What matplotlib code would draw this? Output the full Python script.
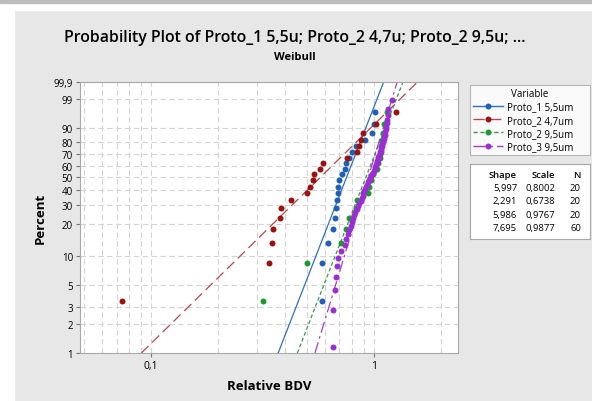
import numpy as np
import matplotlib
matplotlib.use("Agg")
import matplotlib.pyplot as plt
from matplotlib.patches import Rectangle
from matplotlib.lines import Line2D

plt.rcParams["font.family"] = ["Open Sans", "DejaVu Sans"]

# data (Relative BDV, sorted)
proto1_55 = [0.583, 0.583, 0.62, 0.653, 0.668, 0.675, 0.685, 0.692, 0.692, 0.70,
             0.716, 0.741, 0.75, 0.77, 0.794, 0.83, 0.91, 0.98, 1.0, 1.01]
proto2_47 = [0.074, 0.337, 0.348, 0.354, 0.379, 0.383, 0.425, 0.499, 0.516, 0.531,
             0.54, 0.573, 0.589, 0.755, 0.84, 0.855, 0.875, 0.895, 1.02, 1.25]
proto2_95 = [0.317, 0.502, 0.71, 0.745, 0.775, 0.83, 0.84, 0.94, 0.953, 0.97,
             0.99, 1.03, 1.045, 1.064, 1.07, 1.08, 1.09, 1.10, 1.11, 1.14]
proto3_95 = [0.657, 0.657, 0.668, 0.675, 0.68, 0.69, 0.71, 0.74, 0.75, 0.765,
             0.775, 0.785, 0.795, 0.805, 0.815, 0.825, 0.835, 0.848, 0.86, 0.87,
             0.88, 0.888, 0.895, 0.90, 0.91, 0.918, 0.93, 0.94, 0.95, 0.96,
             0.97, 0.98, 0.99, 1.0, 1.005, 1.01, 1.02, 1.03, 1.035, 1.04,
             1.045, 1.05, 1.06, 1.065, 1.07, 1.08, 1.085, 1.09, 1.10, 1.105,
             1.11, 1.12, 1.125, 1.13, 1.135, 1.14, 1.145, 1.15, 1.16, 1.2]

names = ["Proto_1 5,5um", "Proto_2 4,7um", "Proto_2 9,5um", "Proto_3 9,5um"]
shapes = [5.997, 2.291, 5.986, 7.695]
scales = [0.8002, 0.6738, 0.9767, 0.9877]
shape_txt = ["5,997", "2,291", "5,986", "7,695"]
scale_txt = ["0,8002", "0,6738", "0,9767", "0,9877"]

yticks = [1, 2, 3, 5, 10, 20, 30, 40, 50, 60, 70, 80, 90, 99, 99.9]
ytick_labels = ["1", "2", "3", "5", "10", "20", "30", "40", "50", "60", "70",
                "80", "90", "99", "99,9"]

point_colors = ["#1f5fb8", "#9e1010", "#1a9a2a", "#9a2ed2"]
line_colors = ["#2f6fc4", "#b84848", "#3a9a4a", "#a040d0"]
dashes = [None, (8, 4), (3, 2), (9, 3, 2, 3)]


def fwd(p):
    p = np.clip(np.asarray(p, dtype=float), 1e-9, 100 - 1e-9)
    return np.log(-np.log(1 - p / 100.0))


def inv(t):
    return 100.0 * (1 - np.exp(-np.exp(np.asarray(t, dtype=float))))


fig = plt.figure(figsize=(5.92, 4.02), dpi=100)
fig.patch.set_facecolor("#e7e7e7")
# screenshot edges
fig.patches.append(Rectangle((0, 0), 14 / 592, 1, transform=fig.transFigure,
                             color="white", zorder=0))
fig.patches.append(Rectangle((0, 1 - 11 / 402), 1, 11 / 402, transform=fig.transFigure,
                             color="white", zorder=0))
fig.patches.append(Rectangle((0, 1 - 4 / 402), 1, 4 / 402, transform=fig.transFigure,
                             color="#bcbcbc", zorder=0))

ax = fig.add_axes([80 / 592, 48 / 402, 378 / 592, 271 / 402])
ax.set_xscale("log")
ax.set_yscale("function", functions=(fwd, inv))
ax.set_xlim(0.048, 2.38)
ax.set_ylim(1, 99.9)

series = [proto1_55, proto2_47, proto2_95, proto3_95]
pgrid = np.linspace(1, 99.9, 400)
handles = []
for k, vals in enumerate(series):
    x = np.sort(np.array(vals))
    n = len(x)
    pct = 100 * (np.arange(1, n + 1) - 0.3) / (n + 0.4)
    # fitted Weibull line
    xf = scales[k] * (-np.log(1 - pgrid / 100)) ** (1 / shapes[k])
    ln, = ax.plot(xf, pgrid, color=line_colors[k], lw=0.9, zorder=2)
    if dashes[k] is not None:
        ln.set_dashes(dashes[k])
    ax.plot(x, pct, "o", color=point_colors[k], ms=4.3, mec="none", zorder=3 + k)
    h = Line2D([], [], color=line_colors[k], lw=1.0, marker="o", ms=4.3,
               mfc=point_colors[k], mec="none")
    if dashes[k] is not None:
        h.set_dashes(dashes[k])
    handles.append(h)

ax.set_yticks(yticks)
ax.set_yticklabels(ytick_labels)
ax.yaxis.set_minor_locator(matplotlib.ticker.NullLocator())
ax.set_xticks([0.1, 1])
ax.set_xticklabels(["0,1", "1"])
ax.set_xticks([0.05, 0.06, 0.07, 0.08, 0.09, 0.2, 0.3, 0.4, 0.5, 0.6, 0.7, 0.8,
               0.9, 2], minor=True)
ax.xaxis.set_minor_formatter(matplotlib.ticker.NullFormatter())
ax.tick_params(axis="both", which="major", labelsize=7, length=3, width=0.8,
               color="#777777", pad=2)
ax.tick_params(axis="x", which="minor", length=0)
ax.tick_params(axis="x", labelsize=7.5)
ax.grid(True, which="both", axis="x", color="#d4d4d4", ls=(0, (5, 3)), lw=0.8)
ax.grid(True, which="major", axis="y", color="#d4d4d4", ls=(0, (5, 3)), lw=0.8)
ax.set_axisbelow(True)
for s in ax.spines.values():
    s.set_color("#a8a8a8")

ax.set_xlabel("Relative BDV", fontsize=9.5, fontweight="bold", labelpad=6)
ax.set_ylabel("Percent", fontsize=9.5, fontweight="bold", labelpad=5)

fig.text(0.498, 0.905, "Probability Plot of Proto_1 5,5u; Proto_2 4,7u; Proto_2 9,5u; ...",
         ha="center", va="center", fontsize=11.4, fontweight="semibold")
fig.text(0.498, 0.858, "Weibull", ha="center", va="center", fontsize=8,
         fontweight="bold")

# legend box
leg = ax.legend(handles, names, title="Variable", loc="upper left",
                bbox_to_anchor=(470 / 592, 1 - 160 / 402, 120 / 592, 74 / 402),
                bbox_transform=fig.transFigure, mode="expand",
                fontsize=7, title_fontsize=7, frameon=True, fancybox=False,
                edgecolor="#a8a8a8", handlelength=3.0, handletextpad=0.5,
                labelspacing=0.22, borderpad=0.35, borderaxespad=0)
leg.get_frame().set_linewidth(0.8)

# parameter table box
tab = fig.add_axes([470 / 592, 1 - 240 / 402, 120 / 592, 75 / 402])
tab.set_xlim(470, 590)
tab.set_ylim(240, 165)
tab.set_xticks([])
tab.set_yticks([])
for s in tab.spines.values():
    s.set_color("#a8a8a8")
tab.text(517, 175, "Shape", ha="right", va="center", fontsize=6.8, fontweight="semibold")
tab.text(555, 175, "Scale", ha="right", va="center", fontsize=6.8, fontweight="semibold")
tab.text(581, 175, "N", ha="right", va="center", fontsize=6.8, fontweight="semibold")
for k in range(4):
    yy = 188.5 + k * 13.3
    tab.text(517, yy, shape_txt[k], ha="right", va="center", fontsize=6.8)
    tab.text(555, yy, scale_txt[k], ha="right", va="center", fontsize=6.8)
    tab.text(581, yy, str(len(series[k])), ha="right", va="center", fontsize=6.8)

fig.savefig("out.png", dpi=100, facecolor=fig.get_facecolor())
